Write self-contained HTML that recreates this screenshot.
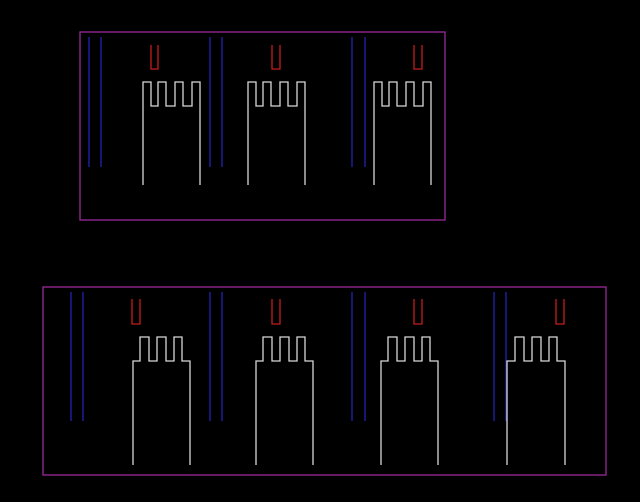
<!DOCTYPE html>
<html><head><style>html,body{margin:0;padding:0;background:#000;width:640px;height:502px;overflow:hidden}</style></head>
<body>
<svg width="640" height="502" viewBox="0 0 640 502" xmlns="http://www.w3.org/2000/svg" style="display:block">
<rect width="640" height="502" fill="#000"/>
<g fill="none" stroke-width="1.3">
<rect x="80" y="32" width="365" height="188" stroke="#9a2a9a"/>
<rect x="43" y="287" width="563" height="188" stroke="#9a2a9a"/>
<g stroke="#2222b4">
<path d="M89 37V167M101 37V167M210 37V167M222 37V167M352 37V167M365 37V167"/>
<path d="M71 292V421M83 292V421M210 292V421M222 292V421M352 292V421M365 292V421M494 292V421M506 292V421"/>
</g>
<g stroke="#c41c1c">
<path d="M151 45V69H158V45M272 45V69H280V45M414 45V69H422V45"/>
<path d="M132 299V324H140V299M272 299V324H280V299M414 299V324H422V299M556 299V324H564V299"/>
</g>
<g stroke="#d8d8d8">
<path d="M143 185V82H151V106H158V82H166V106H175V82H183V106H192V82H200V185"/>
<path d="M248 185V82H256V106H263V82H271V106H280V82H288V106H297V82H305V185"/>
<path d="M374 185V82H382V106H389V82H397V106H406V82H414V106H423V82H431V185"/>
<path d="M133 465V361H140V337H149V361H157V337H166V361H174V337H182V361H190V465"/>
<path d="M256 465V361H263V337H272V361H280V337H289V361H297V337H305V361H313V465"/>
<path d="M381 465V361H388V337H397V361H405V337H414V361H422V337H430V361H438V465"/>
<path d="M507 465V361H515V337H524V361H532V337H541V361H549V337H557V361H565V465"/>
</g>
</g>
</svg>
</body></html>
